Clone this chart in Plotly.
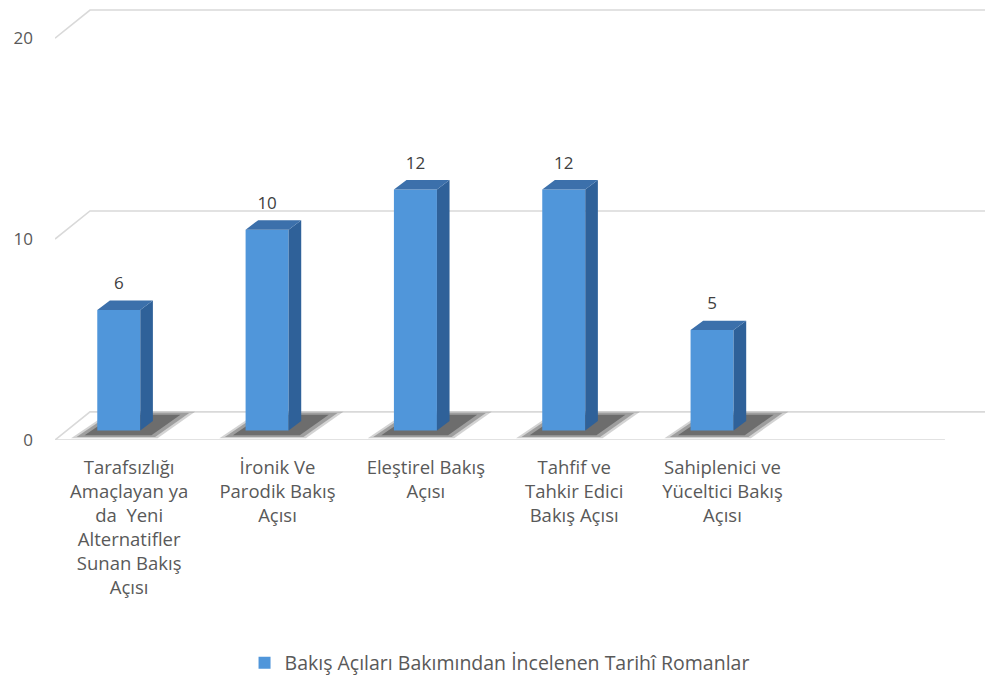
import plotly.graph_objects as go

categories = [
    "Tarafsızlığı<br>Amaçlayan ya<br>da  Yeni<br>Alternatifler<br>Sunan Bakış<br>Açısı",
    "İronik Ve<br>Parodik Bakış<br>Açısı",
    "Eleştirel Bakış<br>Açısı",
    "Tahfif ve<br>Tahkir Edici<br>Bakış Açısı",
    "Sahiplenici ve<br>Yüceltici Bakış<br>Açısı",
]
values = [6, 10, 12, 12, 5]
y_ticks = [0, 10, 20]
series_name = "Bakış Açıları Bakımından İncelenen Tarihî Romanlar"

FONT = "Open Sans"
GREY = "#595959"
GRID = "#d9d9d9"

# pseudo-3D geometry (in axis units)
N_SLOTS = 6
X0 = -0.5
X_END = 5.77
WALL_DX = 0.236   # back wall offset
WALL_DY = 1.4
BASE = 0.47       # bars stand a bit behind the front edge
BW = 0.29
SHIFT = -0.07
DDX = 0.085       # bar depth
DDY = 0.47

idx = list(range(len(values)))


def poly(xs, ys):
    pts = [f"{x},{y}" for x, y in zip(xs, ys)]
    return "M " + " L ".join(pts) + " Z"


shapes = []
# back wall gridlines + left diagonals (behind the bars)
for v in y_ticks:
    shapes.append(dict(type="path", xref="x", yref="y", layer="below",
                       path=f"M {X0},{v} L {X0 + WALL_DX},{v + WALL_DY} L {X_END},{v + WALL_DY}",
                       line=dict(color=GRID, width=1.6)))
# front floor edge
shapes.append(dict(type="line", xref="x", yref="y", layer="below",
                   x0=X0, x1=X0 + N_SLOTS, y0=0, y1=0, line=dict(color=GRID, width=1.6)))

# floor shadows (layered for a soft edge)
for i, v in zip(idx, values):
    xl = i + SHIFT - BW / 2
    xr = i + SHIFT + BW / 2
    cx, cy = (xl + xr) / 2 + 0.08, 0.75
    base_x = [xl - 0.14, xr + 0.1, xr + 0.33, xl + 0.1]
    base_y = [0.15, 0.15, 1.35, 1.35]
    for s, op in [(1.1, 0.2), (1.0, 0.3), (0.85, 0.4)]:
        xs = [cx + (x - cx) * s for x in base_x]
        ys = [cy + (y - cy) * s for y in base_y]
        shapes.append(dict(type="path", xref="x", yref="y", layer="below",
                           path=poly(xs, ys),
                           fillcolor=f"rgba(35,35,35,{op})", line=dict(width=0)))

fig = go.Figure()

# side and top faces
fx, fy = [], []
tx, ty = [], []
for i, v in zip(idx, values):
    xl = i + SHIFT - BW / 2
    xr = i + SHIFT + BW / 2
    top = v + BASE
    fx += [xr, xr + DDX, xr + DDX, xr, xr, None]
    fy += [BASE, BASE + DDY, top + DDY, top, BASE, None]
    tx += [xl, xr, xr + DDX, xl + DDX, xl, None]
    ty += [top, top, top + DDY, top + DDY, top, None]

# front faces (the bars)
fig.add_trace(go.Bar(
    x=idx, y=values, base=BASE, width=BW, offset=SHIFT - BW / 2,
    name=series_name,
    marker=dict(color="#5096da", line=dict(width=0)),
    hoverinfo="y",
))
fig.add_trace(go.Scatter(x=fx, y=fy, mode="lines", fill="toself",
                         fillcolor="#2f6199", line=dict(width=0),
                         hoverinfo="skip", showlegend=False))
fig.add_trace(go.Scatter(x=tx, y=ty, mode="lines", fill="toself",
                         fillcolor="#3c70ab", line=dict(width=0),
                         hoverinfo="skip", showlegend=False))

# data labels
fig.add_trace(go.Scatter(
    x=[i + SHIFT for i in idx], y=[v + BASE + 1.25 for v in values],
    mode="text", text=[str(v) for v in values],
    textposition="middle center",
    textfont=dict(family=FONT, size=17, color="#404040"),
    hoverinfo="skip", showlegend=False, cliponaxis=False,
))

fig.update_layout(
    width=988, height=684,
    margin=dict(l=55, r=3, t=0, b=244),
    paper_bgcolor="white", plot_bgcolor="white",
    font=dict(family=FONT, color=GREY, size=17),
    showlegend=True,
    shapes=shapes,
    legend=dict(orientation="h", x=0.478, xanchor="center", y=-0.507, yanchor="middle",
                font=dict(family=FONT, size=19.5, color=GREY), itemwidth=30),
)
fig.update_xaxes(range=[X0, X_END], tickvals=idx, ticktext=categories,
                 showgrid=False, zeroline=False, showline=False, ticks="",
                 tickfont=dict(family=FONT, size=18.5, color=GREY),
                 ticklabelstandoff=14, fixedrange=True)
fig.update_yaxes(range=[0, 21.9], tickvals=y_ticks, showgrid=False, zeroline=False,
                 showline=False, ticks="", tickfont=dict(family=FONT, size=17, color=GREY),
                 ticklabelstandoff=21, fixedrange=True)

fig.write_html("out.html")
